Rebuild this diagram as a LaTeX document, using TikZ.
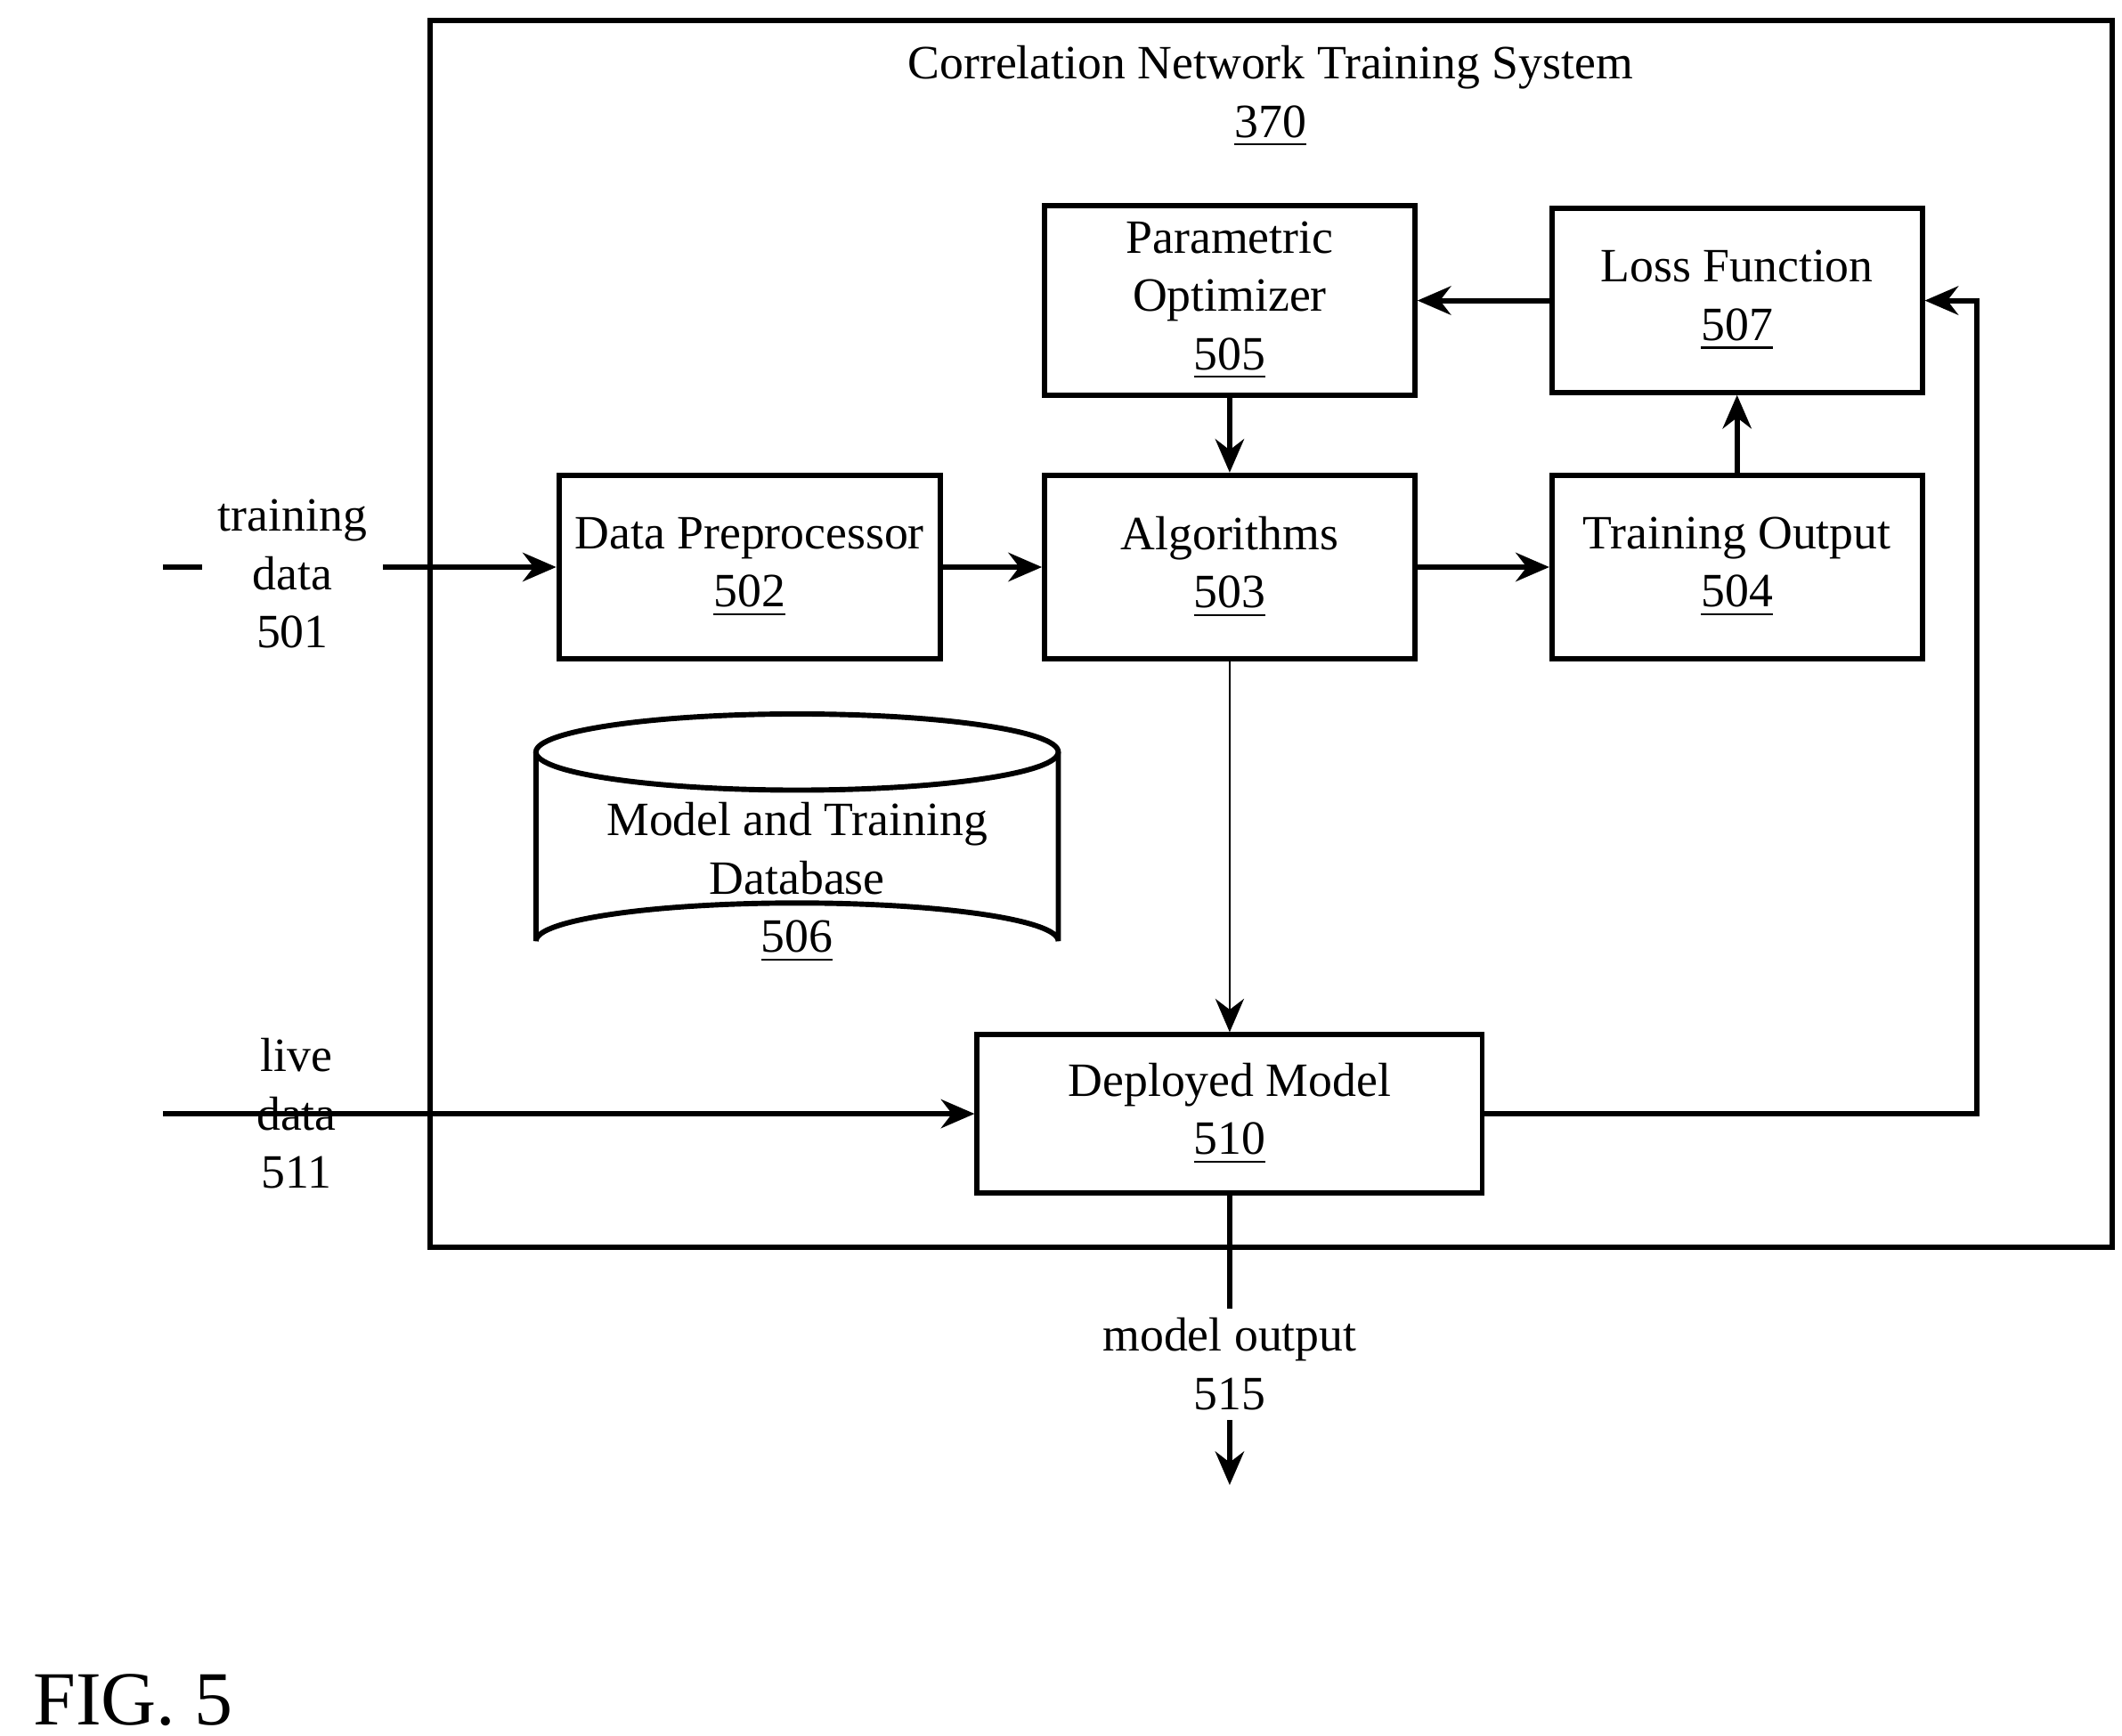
\documentclass[tikz,border=0pt]{standalone}
\usepackage{fontspec}
\setmainfont{Liberation Serif}
\usetikzlibrary{arrows.meta}
\tikzset{
  blk/.style={draw,line width=1.1pt,minimum width=2.72cm,minimum height=1.35cm,align=center,font=\fontsize{10}{12.2}\selectfont},
  lbl/.style={align=center,font=\fontsize{10}{12.2}\selectfont},
  arr/.style={line width=1.1pt,-{Stealth[length=7pt,width=6pt]}}
}
\begin{document}
\begin{tikzpicture}[x=0.01cm,y=-0.01cm]
\useasboundingbox (0,0) rectangle (1560,1276);
% outer system box
\draw[line width=1.1pt] (316,15) rectangle (1553,917);
\node[lbl] (sys) at (934,71) {Correlation Network Training System\\\underline{370}};

\node[blk] (opt) at (904,221) {Parametric\\Optimizer\\\underline{505}};
\node[blk] (loss) at (1277,221) {Loss Function\\\underline{507}};
\node[blk] (prep) at (551,417) {Data Preprocessor\\\underline{502}};
\node[blk] (alg) at (904,417) {Algorithms\\\underline{503}};
\node[blk] (tout) at (1277,417) {Training Output\\\underline{504}};
\node[blk,minimum width=3.71cm,minimum height=1.16cm] (dep) at (904,819) {Deployed Model\\\underline{510}};

% database
\draw[line width=1.1pt,fill=white] (394,553) -- (394,692) arc[start angle=180,end angle=360,x radius=192,y radius=28] -- (778,553);
\draw[line width=1.1pt] (586,553) ellipse[x radius=192,y radius=28];
\node[lbl] (db) at (586,649) {Model and Training\\Database\\\underline{506}};

% inputs
\coordinate (tin) at (120,417);
\coordinate (lin) at (120,819);
\coordinate (mout) at (904,1092);
\coordinate (fb) at (1453,819);
\draw[arr] (tin) -- (prep);
\node[lbl,fill=white] (tdat) at (215,422) {training\\data\\501};
\draw[arr] (lin) -- (dep);
\node[lbl] (ldat) at (218,819) {live\\data\\511};

\draw[arr] (prep) -- (alg);
\draw[arr] (alg) -- (tout);
\draw[arr] (tout) -- (loss);
\draw[arr] (loss) -- (opt);
\draw[arr] (opt) -- (alg);
\draw[-{Stealth[length=7pt,width=6pt]}] (alg) -- (dep);
\draw[arr] (dep) -- (mout);
\draw[arr] (dep) -- (fb) |- (loss);
\node[lbl,fill=white,inner ysep=2pt] (mo) at (904,1003) {model output\\515};

\node[anchor=west,font=\fontsize{16}{19}\selectfont] (fig) at (12,1250) {FIG. 5};
\end{tikzpicture}
\end{document}
